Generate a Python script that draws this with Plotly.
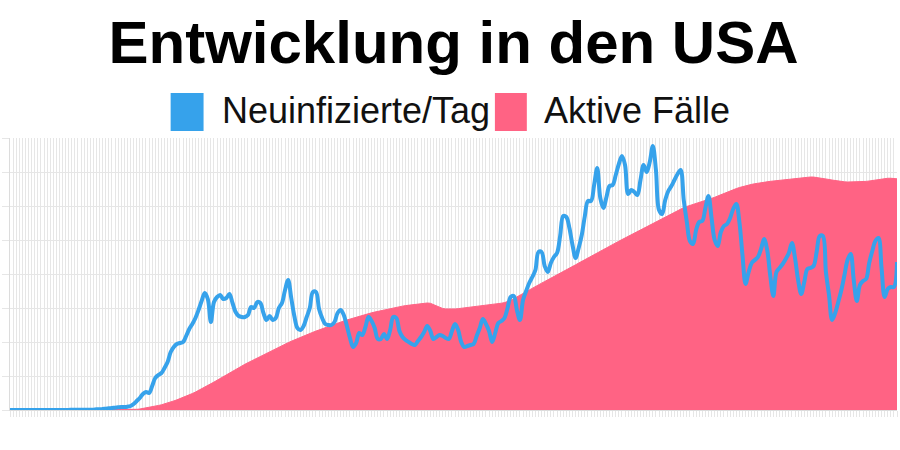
import plotly.graph_objects as go
import pandas as pd

# Tage (Kategorien der x-Achse)
tage = pd.date_range("2020-01-22", periods=288, freq="D")

# Neuinfizierte pro Tag (in Tausend)
neuinfizierte_tsd = [
    0.0, 0.0, 0.0, 0.0, 0.0, 0.0, 0.0, 0.0, 0.0, 0.0,
    0.0, 0.0, 0.0, 0.0, 0.0, 0.0, 0.0, 0.0, 0.0, 0.0,
    0.1, 0.1, 0.1, 0.1, 0.1, 0.1, 0.1, 0.1, 0.2, 0.2,
    0.3, 0.4, 0.5, 0.6, 0.7, 0.8, 0.9, 0.9, 1.0, 1.2,
    1.8, 2.7, 3.6, 4.8, 5.4, 5.1, 7.2, 9.6, 10.5, 11.1,
    12.6, 14.4, 17.4, 18.9, 19.8, 20.1, 20.4, 22.2, 24.3, 25.8,
    27.6, 30.0, 32.7, 35.1, 33.3, 26.4, 32.4, 33.9, 34.5, 33.3,
    33.6, 34.8, 32.1, 29.4, 28.2, 27.9, 27.9, 28.5, 30.9, 30.6,
    32.4, 32.1, 29.1, 27.0, 28.2, 27.0, 27.6, 30.6, 32.1, 36.0,
    39.0, 33.6, 28.2, 24.6, 24.0, 25.2, 27.9, 30.6, 35.4, 35.4,
    30.3, 27.6, 25.8, 25.5, 25.5, 26.4, 29.1, 30.0, 28.5, 25.2,
    21.6, 18.9, 20.1, 23.1, 22.5, 24.9, 27.9, 26.7, 24.6, 21.3,
    21.3, 22.8, 21.3, 24.0, 27.9, 27.6, 23.7, 21.9, 21.0, 20.4,
    19.8, 19.5, 20.7, 21.9, 23.4, 25.2, 23.7, 21.3, 21.9, 22.5,
    22.2, 21.6, 21.3, 23.7, 25.8, 24.0, 20.4, 18.9, 19.2, 19.5,
    19.8, 22.2, 24.6, 27.3, 25.8, 23.7, 20.4, 23.1, 26.1, 26.7,
    27.6, 30.6, 33.9, 34.2, 30.0, 27.0, 33.0, 35.7, 38.1, 39.9,
    42.0, 47.4, 47.4, 43.2, 41.4, 44.1, 45.9, 47.1, 52.2, 58.2,
    57.9, 54.6, 49.5, 45.6, 48.6, 52.5, 58.2, 62.7, 62.7, 67.5,
    72.6, 63.6, 60.6, 63.9, 67.2, 67.5, 70.5, 73.8, 76.2, 73.5,
    64.8, 66.0, 65.4, 64.5, 69.0, 73.5, 71.4, 74.4, 79.2, 72.0,
    60.0, 58.8, 63.0, 65.7, 67.2, 69.0, 70.8, 72.0, 63.0, 56.4,
    50.7, 49.8, 54.0, 56.4, 56.7, 60.6, 64.2, 57.6, 51.0, 49.2,
    53.4, 55.2, 55.8, 57.6, 60.3, 61.8, 56.4, 46.5, 37.8, 41.4,
    44.1, 45.0, 45.9, 48.3, 51.3, 48.0, 40.2, 34.2, 41.4, 42.6,
    43.8, 45.3, 47.1, 50.1, 45.6, 39.0, 34.8, 38.4, 42.3, 42.6,
    43.2, 47.4, 52.2, 52.2, 41.4, 34.5, 27.0, 29.1, 32.4, 36.0,
    40.5, 45.0, 46.8, 39.0, 32.7, 37.5, 38.7, 39.3, 44.1, 47.7,
    50.7, 51.6, 42.6, 33.9, 36.3, 36.9, 36.9, 44.4,
]

# Aktive Fälle (in Tausend)
aktive_tsd = [
    0, 0, 0, 0, 0, 0, 0, 0, 0, 0,
    0, 0, 0, 0, 0, 0, 0, 0, 0, 0,
    0, 0, 0, 0, 0, 0, 0, 0, 0, 0,
    0, 0, 0, 0, 0, 0, 0, 0, 0, 3,
    6, 10, 15, 22, 30, 39, 48, 57, 68, 78,
    90, 105, 120, 136, 152, 169, 187, 206, 226, 247,
    269, 292, 316, 341, 366, 392, 419, 446, 474, 502,
    530, 557, 584, 611, 637, 662, 686, 710, 734, 758,
    781, 804, 828, 851, 874, 897, 920, 943, 966, 988,
    1010, 1031, 1052, 1072, 1092, 1111, 1130, 1148, 1166, 1184,
    1202, 1219, 1236, 1253, 1270, 1287, 1303, 1319, 1335, 1350,
    1365, 1380, 1394, 1408, 1421, 1434, 1446, 1458, 1469, 1480,
    1491, 1502, 1512, 1522, 1532, 1541, 1550, 1558, 1566, 1573,
    1580, 1586, 1591, 1596, 1601, 1605, 1601, 1580, 1556, 1536,
    1523, 1516, 1513, 1514, 1516, 1520, 1525, 1531, 1537, 1543,
    1549, 1554, 1560, 1566, 1572, 1577, 1583, 1589, 1595, 1602,
    1611, 1623, 1645, 1670, 1697, 1723, 1750, 1778, 1806, 1833,
    1858, 1881, 1903, 1927, 1951, 1975, 2000, 2024, 2049, 2075,
    2100, 2126, 2152, 2178, 2204, 2230, 2256, 2281, 2307, 2332,
    2358, 2384, 2410, 2435, 2460, 2484, 2508, 2532, 2556, 2580,
    2605, 2630, 2655, 2680, 2705, 2730, 2755, 2779, 2803, 2828,
    2852, 2876, 2900, 2924, 2948, 2971, 2994, 3016, 3036, 3053,
    3068, 3081, 3093, 3105, 3119, 3134, 3151, 3170, 3190, 3210,
    3230, 3249, 3268, 3286, 3304, 3321, 3337, 3351, 3363, 3374,
    3385, 3394, 3403, 3411, 3418, 3424, 3430, 3435, 3440, 3444,
    3449, 3455, 3461, 3468, 3476, 3483, 3489, 3494, 3495, 3495,
    3494, 3489, 3483, 3476, 3467, 3458, 3449, 3440, 3432, 3426,
    3423, 3420, 3420, 3422, 3423, 3423, 3425, 3429, 3435, 3443,
    3450, 3458, 3465, 3471, 3476, 3476, 3473, 3468,
]

serien_namen = ["Neuinfizierte/Tag", "Aktive Fälle"]
titel = "Entwicklung in den USA"

BLAU = "#36A2EB"
ROSA = "#FF6384"
GRID = "#e6e6e6"
FONT = "Liberation Sans, Arial, sans-serif"

fig = go.Figure()
fig.add_trace(go.Scatter(
    x=tage, y=[v * 1000 for v in aktive_tsd], name=serien_namen[1],
    mode="lines", line=dict(color=ROSA, width=1), fill="tozeroy",
    fillcolor=ROSA, yaxis="y", showlegend=False, hoverinfo="skip"))
fig.add_trace(go.Scatter(
    x=tage, y=[v * 1000 for v in neuinfizierte_tsd], name=serien_namen[0],
    mode="lines", line=dict(color=BLAU, width=4, shape="spline", smoothing=1.0),
    yaxis="y2", showlegend=False))

# plot area in pixels
L, R, T, B = 8, 897, 138, 410
W = R - L
H = B - T


def px(x):
    return (x - L) / W


def py(y):
    return (B - y) / H


shapes = [
    dict(type="rect", xref="paper", yref="paper", x0=px(169), x1=px(202),
         y0=py(131), y1=py(93), fillcolor=BLAU, line=dict(width=0)),
    dict(type="rect", xref="paper", yref="paper", x0=px(494), x1=px(526),
         y0=py(131), y1=py(93), fillcolor=ROSA, line=dict(width=0)),
]
annotations = [
    dict(text=serien_namen[0], xref="paper", yref="paper", x=px(218), y=py(111),
         xanchor="left", yanchor="middle", showarrow=False,
         font=dict(family=FONT, size=36, color="#111")),
    dict(text=serien_namen[1], xref="paper", yref="paper", x=px(541), y=py(111),
         xanchor="left", yanchor="middle", showarrow=False,
         font=dict(family=FONT, size=36, color="#111")),
]

fig.update_layout(
    width=900, height=450,
    margin=dict(l=L, r=900 - R, t=T, b=450 - B),
    paper_bgcolor="white", plot_bgcolor="white",
    title=dict(text="<b>" + titel + "</b>", x=0.5, xanchor="center", xref="paper",
               y=1 - 42 / 450, yanchor="middle", yref="container",
               font=dict(family=FONT, size=60, color="#000")),
    showlegend=False,
    shapes=shapes,
    annotations=annotations,
    xaxis=dict(type="date", range=[tage[0], tage[-1]], dtick=86400000,
               showgrid=True, gridcolor=GRID, gridwidth=1,
               ticks="outside", ticklen=6, tickcolor=GRID,
               showticklabels=False, showline=True, linecolor="#dcdcdc",
               zeroline=False, fixedrange=True),
    yaxis=dict(range=[0, 4080000], dtick=510000, showgrid=True, gridcolor=GRID,
               ticks="outside", ticklen=7, tickcolor=GRID, showticklabels=False,
               showline=True, linecolor="#dcdcdc", zeroline=False),
    yaxis2=dict(range=[0, 81600], overlaying="y", side="right", showgrid=False,
                showticklabels=False, zeroline=False, showline=False, ticks=""),
)

fig.write_html("out.html")
